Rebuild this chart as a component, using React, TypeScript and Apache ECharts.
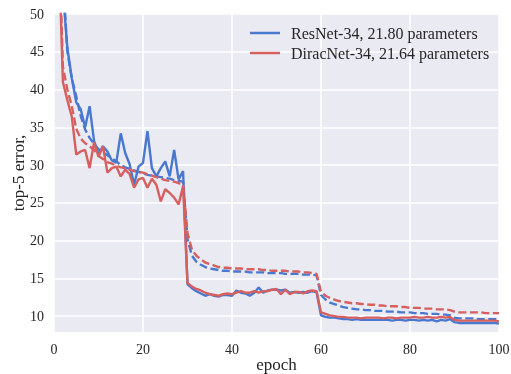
import React, { useEffect, useRef } from "react";
import * as echarts from "echarts";

const epochs: number[] = Array.from({ length: 100 }, (_, i) => i + 1);

const resnetVal: number[] = [
  68, 53, 45.5, 41.5, 38.3, 37.4, 35.0, 37.8, 33.2, 31.4,
  32.5, 31.8, 30.6, 30.3, 34.2, 31.6, 30.1, 27.4, 29.8, 30.3,
  34.5, 29.6, 28.5, 29.6, 30.5, 28.5, 32.0, 28.1, 29.2, 14.2,
  13.7, 13.3, 13.0, 12.7, 12.9, 12.7, 12.6, 12.8, 12.8, 12.7,
  13.4, 13.1, 13.0, 12.7, 13.1, 13.8, 13.1, 13.4, 13.5, 13.5,
  13.4, 13.5, 13.1, 13.2, 13.1, 13.2, 13.1, 13.3, 13.2, 10.1,
  9.9, 9.8, 9.8, 9.7, 9.6, 9.6, 9.5, 9.6, 9.5, 9.5,
  9.5, 9.5, 9.5, 9.5, 9.5, 9.4, 9.5, 9.5, 9.4, 9.5,
  9.5, 9.4, 9.5, 9.4, 9.5, 9.3, 9.5, 9.4, 9.6, 9.2,
  9.1, 9.1, 9.1, 9.1, 9.1, 9.1, 9.1, 9.1, 9.1, 9.0,
];

const resnetTrain: number[] = [
  70, 55, 45, 41.5, 39.1, 36.5, 34.7, 33.6, 32.8, 32.1,
  31.7, 31.3, 30.9, 30.5, 30.0, 29.7, 29.5, 29.3, 29.1, 28.9,
  28.7, 28.6, 28.5, 28.4, 28.3, 28.2, 28.0, 27.9, 27.8, 20.2,
  18.0, 17.2, 16.8, 16.5, 16.3, 16.2, 16.1, 16.0, 16.0, 15.9,
  15.9, 15.9, 15.9, 15.8, 15.8, 15.8, 15.8, 15.7, 15.7, 15.7,
  15.7, 15.6, 15.6, 15.6, 15.6, 15.5, 15.5, 15.5, 15.4, 12.8,
  12.2, 11.8, 11.6, 11.4, 11.2, 11.1, 11.0, 10.9, 10.9, 10.8,
  10.8, 10.7, 10.7, 10.7, 10.6, 10.6, 10.6, 10.5, 10.5, 10.5,
  10.4, 10.4, 10.4, 10.3, 10.3, 10.3, 10.2, 10.2, 10.1, 9.8,
  9.7, 9.7, 9.7, 9.7, 9.6, 9.6, 9.6, 9.6, 9.6, 9.6,
];

const diracVal: number[] = [
  60, 41, 38.6, 36.4, 31.4, 31.8, 32.0, 29.6, 33.0, 31.1,
  32.5, 29.0, 29.6, 29.8, 28.5, 29.4, 28.8, 27.0, 28.1, 28.3,
  27.0, 28.2, 27.4, 25.2, 26.8, 26.3, 25.7, 24.8, 27.2, 14.4,
  13.9, 13.6, 13.4, 13.1, 12.9, 12.8, 12.7, 12.9, 13.0, 12.9,
  13.1, 13.3, 13.1, 13.1, 13.3, 13.1, 13.3, 13.3, 13.5, 13.6,
  12.9, 13.5, 12.9, 13.2, 13.2, 13.0, 13.3, 13.4, 13.3, 10.5,
  10.3, 10.1, 10.0, 9.9, 9.9, 9.8, 9.8, 9.8, 9.7, 9.8,
  9.8, 9.8, 9.8, 9.7, 9.8, 9.8, 9.7, 9.8, 9.8, 9.8,
  9.9, 9.8, 9.8, 9.9, 9.8, 9.8, 9.9, 9.8, 9.9, 9.5,
  9.4, 9.4, 9.4, 9.4, 9.4, 9.4, 9.4, 9.4, 9.4, 9.3,
];

const diracTrain: number[] = [
  62, 43, 40, 37.8, 34.8, 33.5, 32.9, 32.5, 32.0, 31.2,
  30.8, 30.4, 30.2, 29.9, 29.7, 29.6, 29.4, 29.2, 29.1, 29.0,
  28.8, 28.6, 28.4, 28.2, 28.0, 27.9, 27.8, 27.6, 27.5, 21.0,
  18.8, 18.0, 17.5, 17.1, 16.9, 16.7, 16.5, 16.4, 16.4, 16.3,
  16.3, 16.3, 16.2, 16.2, 16.2, 16.2, 16.1, 16.1, 16.0, 16.0,
  16.0, 16.0, 15.9, 15.9, 15.9, 15.8, 15.8, 15.7, 15.6, 13.2,
  12.7, 12.4, 12.2, 12.0, 11.9, 11.8, 11.7, 11.7, 11.6, 11.6,
  11.5, 11.5, 11.4, 11.4, 11.3, 11.3, 11.3, 11.2, 11.2, 11.1,
  11.1, 11.1, 11.0, 11.0, 11.0, 10.9, 10.9, 10.9, 10.8, 10.6,
  10.5, 10.5, 10.5, 10.5, 10.5, 10.5, 10.4, 10.4, 10.4, 10.4,
];

const xTicks: number[] = [0, 20, 40, 60, 80, 100];
const yTicks: number[] = [10, 15, 20, 25, 30, 35, 40, 45, 50];

const legendNames: string[] = [
  "ResNet-34, 21.80 parameters",
  "DiracNet-34, 21.64 parameters",
];

const BLUE = "#4878CF";
const RED = "#D65F5F";
const FONT = "Liberation Serif";
const TEXT = "#262626";

const pairs = (vals: number[]) => epochs.map((e, i) => [e, vals[i]]);

export default function App() {
  const ref = useRef<HTMLDivElement>(null);
  useEffect(() => {
    if (!ref.current) return;
    const chart = echarts.init(ref.current, undefined, { renderer: "svg" });
    const lineSeries = (name: string, vals: number[], color: string, dashed: boolean) => ({
      name,
      type: "line",
      data: pairs(vals),
      showSymbol: false,
      symbol: "none",
      clip: true,
      lineStyle: {
        color,
        width: 2.4,
        type: dashed ? [8, 3.5] : "solid",
      },
      itemStyle: { color },
      emphasis: { disabled: true },
    });
    chart.setOption({
      animation: false,
      textStyle: { fontFamily: FONT },
      grid: {
        left: 54,
        right: 12,
        top: 14,
        bottom: 42,
        show: true,
        backgroundColor: "#EAEAF2",
        borderWidth: 0,
        containLabel: false,
        outerBoundsMode: "none",
      },
      legend: {
        data: legendNames,
        orient: "vertical",
        left: 245,
        top: 18,
        icon: "rect",
        itemWidth: 30,
        itemHeight: 2.5,
        itemGap: 0,
        textStyle: {
          fontFamily: FONT,
          fontSize: 16,
          color: TEXT,
          lineHeight: 20,
          padding: [0, 0, 0, 6],
        },
      },
      xAxis: {
        type: "value",
        min: 0,
        max: 100,
        interval: 20,
        name: "epoch",
        nameLocation: "middle",
        nameGap: 24,
        nameMoveOverlap: false,
        nameTextStyle: { fontFamily: FONT, fontSize: 17, color: TEXT },
        axisLine: { show: false },
        axisTick: { show: false, customValues: xTicks },
        axisLabel: {
          customValues: xTicks,
          fontFamily: FONT,
          fontSize: 14,
          color: TEXT,
          margin: 10,
        },
        splitLine: { show: true, lineStyle: { color: "#ffffff", width: 1.5 } },
      },
      yAxis: {
        type: "value",
        min: 7.9,
        max: 50,
        name: "top-5 error,",
        nameLocation: "middle",
        nameGap: 27,
        nameMoveOverlap: false,
        nameTextStyle: { fontFamily: FONT, fontSize: 17, color: TEXT },
        axisLine: { show: false },
        axisTick: { show: false, customValues: yTicks },
        axisLabel: {
          customValues: yTicks,
          fontFamily: FONT,
          fontSize: 14,
          color: TEXT,
          margin: 10,
        },
        splitLine: { show: true, lineStyle: { color: "#ffffff", width: 1.5 } },
      },
      series: [
        lineSeries(legendNames[0], resnetVal, BLUE, false),
        lineSeries("ResNet-34 train", resnetTrain, BLUE, true),
        lineSeries(legendNames[1], diracVal, RED, false),
        lineSeries("DiracNet-34 train", diracTrain, RED, true),
      ],
    });
    return () => chart.dispose();
  }, []);
  return (
    <div
      ref={ref}
      style={{ position: "fixed", left: 0, top: 0, width: 511, height: 374 }}
    />
  );
}
